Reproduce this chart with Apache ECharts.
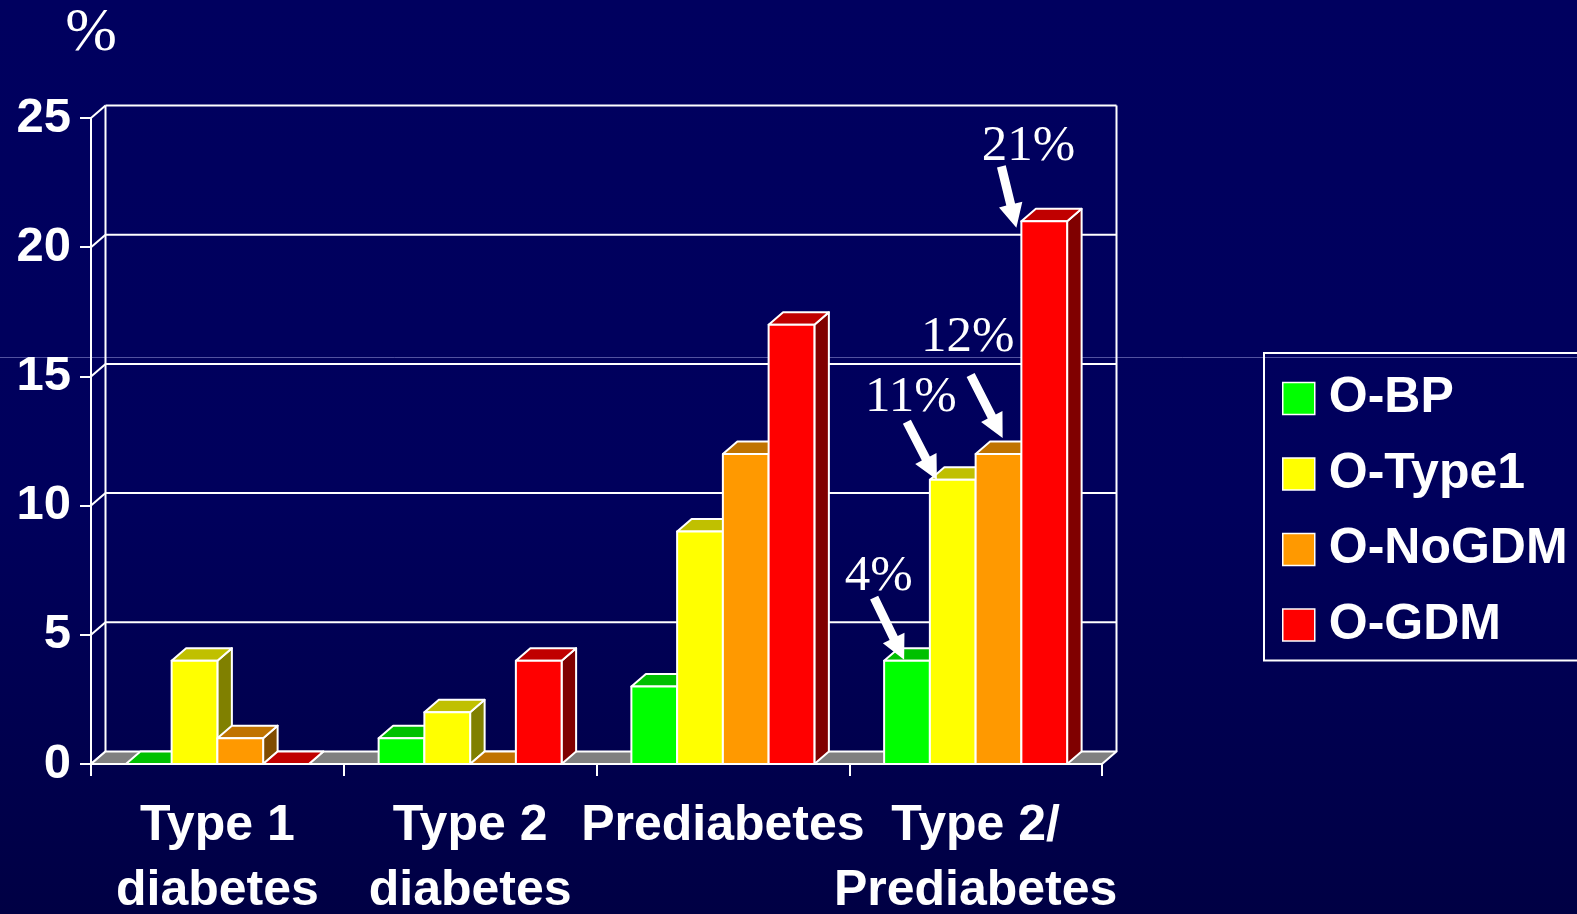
<!DOCTYPE html>
<html>
<head>
<meta charset="utf-8">
<title>Offspring outcomes by maternal group</title>
<script src="https://cdn.jsdelivr.net/npm/echarts@6/dist/echarts.min.js"></script>
<style>
  html, body { margin: 0; padding: 0; width: 100%; height: 100%; overflow: hidden; }
  body { background: linear-gradient(to bottom, #00005f 0%, #00005c 55%, #000044 100%); }
  #chart { width: 1577px; height: 914px; }
</style>
</head>
<body>
<div id="chart"></div>
<script>
// ---- data -------------------------------------------------------------
const categories = ['Type 1\ndiabetes', 'Type 2\ndiabetes', 'Prediabetes', 'Type 2/\nPrediabetes'];
const seriesNames = ['O-BP', 'O-Type1', 'O-NoGDM', 'O-GDM'];
const oBP     = [0, 1, 3, 4];
const oType1  = [4, 2, 9, 11];
const oNoGDM  = [1, 0, 12, 12];
const oGDM    = [0, 4, 17, 21];
const yTicks  = [0, 5, 10, 15, 20, 25];
const yName   = '%';
// bars that carry a callout (series index, category index)
const callouts = [[0, 3], [1, 3], [2, 3], [3, 3]];

const seriesValues = [oBP, oType1, oNoGDM, oGDM];

// ---- styling ----------------------------------------------------------
const DX = 14.5;            // depth offset to the right
const DY = 12.5;            // depth offset upward
const BAR_RATIO = 0.181;    // bar width as share of a category
const EDGE = '#ffffff';
const palette = [
  { front: '#00ff00', top: '#00c000', side: '#008000' },
  { front: '#ffff00', top: '#c0c000', side: '#808000' },
  { front: '#ff9900', top: '#c07300', side: '#804c00' },
  { front: '#ff0000', top: '#c00000', side: '#800000' }
];
const FLOOR = '#808080';
const SANS = "'Liberation Sans', Arial, Helvetica, sans-serif";
const SERIF = "'Liberation Serif', 'Times New Roman', serif";

// callout placement relative to the bar's front top-left corner
const calloutLayout = [
  { text: [-5.5, -84], tail: [-10, -63], tip: [20, -1] },
  { text: [-19, -82], tail: [-23, -58], tip: [7, 0] },
  { text: [-8, -116], tail: [-5, -79], tip: [27, -16] },
  { text: [7, -75], tail: [-20, -55], tip: [-5, 6.5] }
];

function barGeometry(api, sIdx, cat, val) {
  const top = api.coord([cat, val]);
  const base = api.coord([cat, 0]);
  const bw = api.size([1, 0])[0] * BAR_RATIO;
  const x0 = top[0] - bw * seriesNames.length / 2 + sIdx * bw;
  return { x0: x0, bw: bw, yT: top[1], yB: base[1] };
}

function edgeStyle(fill) {
  return { fill: fill, stroke: EDGE, lineWidth: 2, lineJoin: 'round' };
}

function makeBarRenderer(sIdx) {
  return function (params, api) {
    const g = barGeometry(api, sIdx, api.value(0), api.value(1));
    const c = palette[sIdx];
    const { x0, bw, yT, yB } = g;
    return {
      type: 'group',
      children: [
        { type: 'polygon', shape: { points: [[x0 + bw, yT], [x0 + bw + DX, yT - DY], [x0 + bw + DX, yB - DY], [x0 + bw, yB]] }, style: edgeStyle(c.side) },
        { type: 'polygon', shape: { points: [[x0, yT], [x0 + bw, yT], [x0 + bw + DX, yT - DY], [x0 + DX, yT - DY]] }, style: edgeStyle(c.top) },
        { type: 'rect', shape: { x: x0, y: yT, width: bw, height: yB - yT }, style: edgeStyle(c.front) }
      ]
    };
  };
}

// back wall, side diagonals and floor, one item per value tick
function renderFrame(params, api) {
  const v = api.value(1);
  const cs = params.coordSys;
  const left = cs.x, right = cs.x + cs.width;
  const y = api.coord([0, v])[1];
  const yTop = api.coord([0, yTicks[yTicks.length - 1]])[1];
  const line = { stroke: EDGE, lineWidth: 2 };
  const children = [
    { type: 'line', shape: { x1: left, y1: y, x2: left + DX, y2: y - DY }, style: line }
  ];
  if (v === 0) {
    children.push(
      { type: 'line', shape: { x1: left + DX, y1: y - DY, x2: left + DX, y2: yTop - DY }, style: line },
      { type: 'line', shape: { x1: right + DX, y1: y - DY, x2: right + DX, y2: yTop - DY }, style: line },
      { type: 'polygon', shape: { points: [[left, y], [right, y], [right + DX, y - DY], [left + DX, y - DY]] }, style: edgeStyle(FLOOR) }
    );
  } else {
    children.push({ type: 'line', shape: { x1: left + DX, y1: y - DY, x2: right + DX, y2: y - DY }, style: line });
  }
  return { type: 'group', children: children };
}

function arrowPoints(tail, tip) {
  const dx = tip[0] - tail[0], dy = tip[1] - tail[1];
  const len = Math.sqrt(dx * dx + dy * dy);
  const ux = dx / len, uy = dy / len;
  const nx = -uy, ny = ux;
  const hw = 4.5, hl = 24, hh = 12;
  const bx = tip[0] - ux * hl, by = tip[1] - uy * hl;
  return [
    [tail[0] + nx * hw, tail[1] + ny * hw],
    [bx + nx * hw, by + ny * hw],
    [bx + nx * hh, by + ny * hh],
    [tip[0], tip[1]],
    [bx - nx * hh, by - ny * hh],
    [bx - nx * hw, by - ny * hw],
    [tail[0] - nx * hw, tail[1] - ny * hw]
  ];
}

function renderCallout(params, api) {
  const cat = api.value(0), val = api.value(1), sIdx = api.value(2), k = api.value(3);
  const g = barGeometry(api, sIdx, cat, val);
  const L = calloutLayout[k];
  const ox = g.x0, oy = g.yT;
  const tail = [ox + L.tail[0], oy + L.tail[1]];
  const tip = [ox + L.tip[0], oy + L.tip[1]];
  return {
    type: 'group',
    children: [
      { type: 'polygon', shape: { points: arrowPoints(tail, tip) }, style: { fill: '#ffffff' } },
      {
        type: 'text',
        x: ox + L.text[0], y: oy + L.text[1],
        style: { text: val + '%', fill: '#ffffff', font: '51px ' + SERIF, align: 'center', verticalAlign: 'middle' }
      }
    ]
  };
}

const series = [{
  type: 'custom',
  name: 'frame',
  coordinateSystem: 'cartesian2d',
  renderItem: renderFrame,
  data: yTicks.map(v => [0, v]),
  encode: { x: 0, y: 1 },
  z: 1,
  silent: true
}];

seriesNames.forEach((name, sIdx) => {
  series.push({
    type: 'custom',
    name: name,
    coordinateSystem: 'cartesian2d',
    renderItem: makeBarRenderer(sIdx),
    itemStyle: { color: palette[sIdx].front },
    data: seriesValues[sIdx].map((v, i) => [i, v]),
    encode: { x: 0, y: 1 },
    z: 2
  });
});

series.push({
  type: 'custom',
  name: 'callouts',
  coordinateSystem: 'cartesian2d',
  renderItem: renderCallout,
  data: callouts.map((c, k) => [c[1], seriesValues[c[0]][c[1]], c[0], k]),
  encode: { x: 0, y: 1 },
  z: 3,
  silent: true
});

const chart = echarts.init(document.getElementById('chart'), null, { renderer: 'canvas' });
chart.setOption({
  backgroundColor: 'transparent',
  animation: false,
  graphic: [{
    type: 'line',
    z: -10,
    shape: { x1: 0, y1: 357.5, x2: 1577, y2: 357.5 },
    style: { stroke: 'rgba(150,150,215,0.55)', lineWidth: 1 }
  }],
  grid: { left: 91, right: 475, top: 118, bottom: 150, containLabel: false, outerBoundsMode: 'none' },
  xAxis: {
    type: 'category',
    data: categories,
    axisLine: { lineStyle: { color: EDGE, width: 2 } },
    axisTick: { show: true, length: 12, lineStyle: { color: EDGE, width: 2 } },
    axisLabel: {
      interval: 0,
      color: '#ffffff',
      fontFamily: SANS,
      fontWeight: 'bold',
      fontSize: 50,
      lineHeight: 65,
      margin: 30
    },
    splitLine: { show: false }
  },
  yAxis: {
    type: 'value',
    min: yTicks[0],
    max: yTicks[yTicks.length - 1],
    interval: yTicks[1] - yTicks[0],
    name: yName,
    nameLocation: 'end',
    nameGap: 84,
    nameTextStyle: { color: '#ffffff', fontFamily: SERIF, fontSize: 62, align: 'center', verticalAlign: 'middle' },
    axisLine: { show: true, lineStyle: { color: EDGE, width: 2 } },
    axisTick: { show: true, length: 11, lineStyle: { color: EDGE, width: 2 } },
    axisLabel: { color: '#ffffff', fontFamily: SANS, fontWeight: 'bold', fontSize: 49, margin: 20 },
    splitLine: { show: false }
  },
  legend: {
    data: seriesNames,
    orient: 'vertical',
    left: 1264,
    top: 353,
    padding: [18, 20, 8, 18],
    borderColor: '#ffffff',
    borderWidth: 2,
    itemWidth: 32,
    itemHeight: 32,
    itemGap: 20.5,
    icon: 'rect',
    itemStyle: { borderColor: '#ffffff', borderWidth: 1.5 },
    textStyle: { color: '#ffffff', fontFamily: SANS, fontWeight: 'bold', fontSize: 50, lineHeight: 50, padding: [5, 0, 0, 9] },
    selectedMode: false
  },
  series: series
});
</script>
</body>
</html>
